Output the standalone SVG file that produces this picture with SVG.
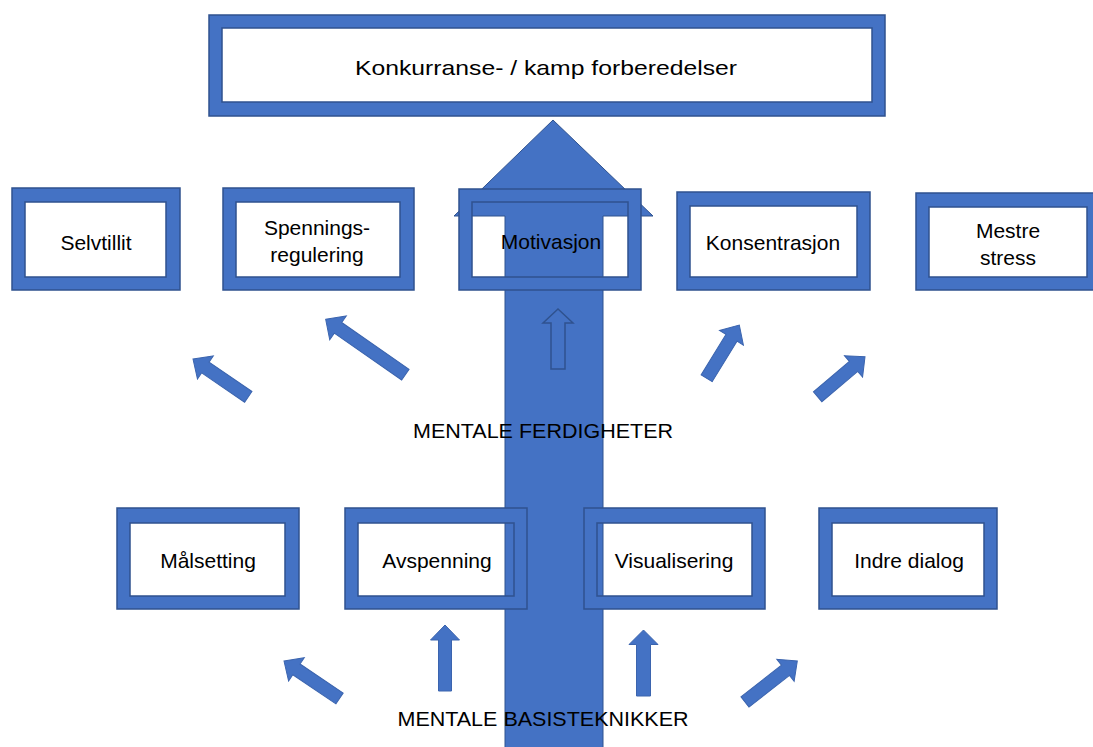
<svg xmlns="http://www.w3.org/2000/svg" width="1093" height="747" viewBox="0 0 1093 747">
<style>
.frame{fill:#4472C4;fill-rule:evenodd;stroke:#2F528F;stroke-width:1.5}
.arr{fill:#4472C4;stroke:#3B64AE;stroke-width:1}
.arr-o{fill:#4472C4;stroke:#2F528F;stroke-width:1.5}
.big{fill:#4472C4;stroke:#2F528F;stroke-width:1}
text{font-family:"Liberation Sans",Arial,sans-serif;font-size:21px;fill:#000;text-anchor:middle}
</style>
<rect width="1093" height="747" fill="#fff"/>
<g id="connectors">
<polygon class="big" points="553,120 653,216 603,216 603,760 505,760 505,216 454,216"/>
<path class="arr" transform="translate(193,359) rotate(-55.6)" d="M0,0 L14,15 L6.5,15 L6.5,67 L-6.5,67 L-6.5,15 L-14,15 Z"/>
<path class="arr" transform="translate(325.7,319.3) rotate(-55.2)" d="M0,0 L14.5,15 L6.5,15 L6.5,97 L-6.5,97 L-6.5,15 L-14.5,15 Z"/>
<path class="arr-o" transform="translate(558,309)" d="M0,0 L15,14 L7,14 L7,60 L-7,60 L-7,14 L-15,14 Z"/>
<path class="arr" transform="translate(739.3,325) rotate(31.5)" d="M0,0 L14,15 L6.5,15 L6.5,62.5 L-6.5,62.5 L-6.5,15 L-14,15 Z"/>
<path class="arr" transform="translate(865,356.7) rotate(49.8)" d="M0,0 L14,15 L6.5,15 L6.5,62 L-6.5,62 L-6.5,15 L-14,15 Z"/>
<path class="arr" transform="translate(284,661) rotate(-56)" d="M0,0 L14,15 L6.5,15 L6.5,67 L-6.5,67 L-6.5,15 L-14,15 Z"/>
<path class="arr" transform="translate(445,625)" d="M0,0 L14.5,15 L6.5,15 L6.5,66 L-6.5,66 L-6.5,15 L-14.5,15 Z"/>
<path class="arr" transform="translate(643.5,630)" d="M0,0 L14.5,14.5 L7,14.5 L7,66 L-7,66 L-7,14.5 L-14.5,14.5 Z"/>
<path class="arr" transform="translate(797.3,661) rotate(51.9)" d="M0,0 L14,15 L6.5,15 L6.5,66.5 L-6.5,66.5 L-6.5,15 L-14,15 Z"/>
</g>
<g id="n-konkurranse">
<path class="frame" d="M209,15 h676 v101 h-676 Z M222,28 v74 h650 v-74 Z"/>
<text x="546" y="75" font-size="25" textLength="382" lengthAdjust="spacingAndGlyphs">Konkurranse- / kamp forberedelser</text>
</g>
<g id="n-selvtillit">
<path class="frame" d="M12,188 h168 v102 h-168 Z M25,202 v75 h141 v-75 Z"/>
<text x="96" y="250">Selvtillit</text>
</g>
<g id="n-spenningsregulering">
<path class="frame" d="M223,188 h191 v102 h-191 Z M236,202 v75 h164 v-75 Z"/>
<text x="317" y="235">Spennings-</text>
<text x="317" y="262">regulering</text>
</g>
<g id="n-motivasjon">
<path class="frame" d="M459,189 h182 v101 h-182 Z M472,202 v75 h156 v-75 Z"/>
<text x="551" y="249">Motivasjon</text>
</g>
<g id="n-konsentrasjon">
<path class="frame" d="M677,192 h193 v98 h-193 Z M690,206 v71 h167 v-71 Z"/>
<text x="773" y="250" font-size="20.5">Konsentrasjon</text>
</g>
<g id="n-mestre-stress">
<path class="frame" d="M916,193 h184 v97 h-184 Z M929,207 v70 h158 v-70 Z"/>
<text x="1008" y="238">Mestre</text>
<text x="1008" y="265">stress</text>
</g>
<g id="n-malsetting">
<path class="frame" d="M117,508 h182 v101 h-182 Z M130,523 v73 h155 v-73 Z"/>
<text x="208" y="568">Målsetting</text>
</g>
<g id="n-avspenning">
<path class="frame" d="M345,508 h182 v101 h-182 Z M358,523 v73 h156 v-73 Z"/>
<text x="437" y="568">Avspenning</text>
</g>
<g id="n-visualisering">
<path class="frame" d="M584,508 h181 v101 h-181 Z M597,523 v73 h155 v-73 Z"/>
<text x="674" y="568">Visualisering</text>
</g>
<g id="n-indre-dialog">
<path class="frame" d="M819,508 h178 v101 h-178 Z M832,523 v73 h152 v-73 Z"/>
<text x="909" y="568">Indre dialog</text>
</g>
<g id="labels">
<text x="543" y="438" font-size="22" textLength="260" lengthAdjust="spacingAndGlyphs">MENTALE FERDIGHETER</text>
<text x="543" y="726" font-size="22" textLength="291" lengthAdjust="spacingAndGlyphs">MENTALE BASISTEKNIKKER</text>
</g>
</svg>
